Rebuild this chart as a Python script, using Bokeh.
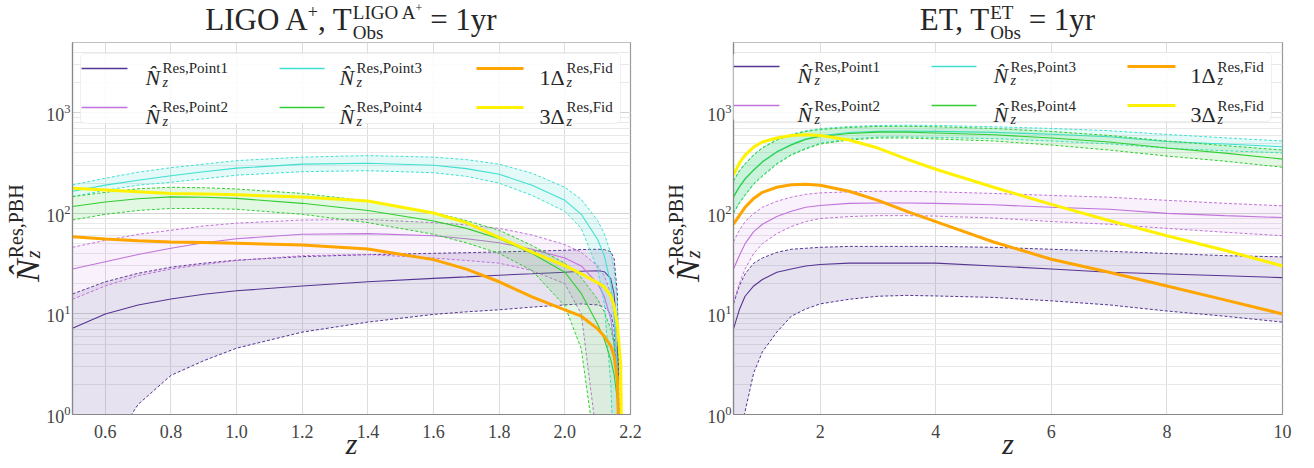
import math
from bokeh.plotting import figure
from bokeh.layouts import row, column
from bokeh.models import (Range1d, Label, Arrow, BoxAnnotation, FixedTicker,
                          PrintfTickFormatter, Div)
from bokeh.embed import file_html
from bokeh.resources import INLINE

# ---------------- data: LIGO A+ panel ----------------
Z_L = [0.5, 0.6, 0.7, 0.8, 0.9, 1.0, 1.2, 1.4, 1.6, 1.7, 1.8, 1.9, 2.0, 2.05, 2.1, 2.12, 2.14, 2.15, 2.16, 2.17, 2.18]
L_P1_MID = [7.2, 10, 12.3, 14.1, 15.7, 17, 19, 20.9, 22.6, 23.4, 24.3, 25.1, 26, 26.6, 26.9, 26.3, 22.4, 15.8, 6.3, 0.1, 0.01]
L_P1_UP = [15.8, 20.9, 25.4, 29.2, 32, 34.3, 37.2, 38.9, 40.1, 40.7, 41.4, 42.2, 43, 43.7, 44, 43.7, 41.7, 35.5, 15.8, 0.1, 0.01]
L_P1_LO = [0.1, 0.4, 1.26, 2.45, 3.43, 4.57, 6.6, 8.3, 9.9, 10.5, 11, 11.7, 12.3, 12.6, 12.3, 11.7, 10, 7.1, 1.6, 0.1, 0.01]
L_P2_MID = [28, 33, 39, 45, 51, 56, 62, 63, 60, 56, 51, 44, 36, 30, 20, 15, 8.9, 5, 1.6, 0.1, 0.01]
L_P2_UP = [46, 54, 62, 68, 75, 80, 86, 87, 81, 77, 71, 61, 49, 41, 30, 24, 16, 10, 3.2, 0.1, 0.01]
L_P2_LO = [14, 19, 24, 28, 31, 34, 38, 39, 36, 34, 32, 27, 20, 10, 0.5, 0.1, 0.01, 0.01, 0.01, 0.01, 0.01]
L_P3_MID = [166, 191, 214, 237, 260, 282, 309, 316, 301, 279, 245, 191, 135, 98, 55, 38, 20, 11, 2.5, 0.1, 0.01]
L_P3_UP = [192, 224, 257, 285, 309, 335, 363, 376, 363, 343, 309, 251, 182, 138, 85, 63, 40, 28, 12.6, 1.6, 0.01]
L_P3_LO = [147, 170, 191, 204, 221, 240, 260, 266, 254, 234, 200, 151, 105, 71, 28, 12.6, 2, 0.3, 0.1, 0.01, 0.01]
L_P4_MID = [117, 130, 140, 146, 145, 141, 126, 107, 84, 71, 56, 40, 26, 16, 7.9, 5.6, 3.5, 2.5, 1.4, 0.1, 0.01]
L_P4_UP = [147, 162, 176, 182, 180, 175, 158, 133, 102, 85, 68, 48, 32, 23, 14, 10.5, 7.1, 5, 2, 0.1, 0.01]
L_P4_LO = [86, 98, 107, 112, 112, 110, 98, 81, 62, 51, 40, 27, 12, 4.5, 0.3, 0.1, 0.01, 0.01, 0.01, 0.01, 0.01]
L_D1 = [58.5, 55.6, 53.5, 52.1, 51.3, 50.5, 48.4, 44.2, 34.7, 27.9, 20.9, 14.8, 11, 9.5, 7.1, 6, 4.8, 3.8, 2.2, 0.1, 0.01]
L_D3 = [178, 171, 164, 158, 156, 153, 146, 133, 101, 81, 57.5, 41.2, 30.2, 25.1, 20.4, 18.6, 15.1, 12, 7.9, 3.2, 0.01]
L_XTICKS = [0.6, 0.8, 1.0, 1.2, 1.4, 1.6, 1.8, 2.0, 2.2]

# ---------------- data: ET panel ----------------
Z_E = [0.5, 0.6, 0.7, 0.85, 1.0, 1.25, 1.5, 1.75, 2.0, 2.5, 3.0, 3.5, 4, 5, 6, 7, 8, 9, 10]
E_P1_MID = [7.1, 11, 15, 19, 22, 26, 28, 30, 31, 32, 32, 32, 32, 30, 28, 26, 25, 24, 23]
E_P1_UP = [12.6, 19, 25, 32, 36, 41, 44, 45, 46, 47, 47, 47, 47, 46, 44, 42, 40, 38, 37]
E_P1_LO = [0.25, 0.6, 1.07, 2.6, 4.2, 6.6, 9.5, 11.2, 12.6, 14, 15, 15.3, 15.1, 14.6, 13.5, 12.3, 10.7, 9.5, 8.3]
E_P2_MID = [28, 38, 50, 66, 78, 93, 105, 115, 120, 126, 127, 127, 126, 122, 115, 110, 100, 95, 91]
E_P2_UP = [52, 68, 83, 100, 115, 132, 145, 155, 160, 164, 166, 166, 164, 158, 151, 145, 135, 126, 119]
E_P2_LO = [13, 20, 28, 40, 50, 63, 74, 83, 89, 93, 95, 95, 94, 90, 83, 78, 71, 65, 60]
E_P3_MID = [148, 185, 222, 272, 328, 412, 486, 552, 592, 637, 655, 660, 655, 640, 612, 578, 520, 490, 460]
E_P3_UP = [212, 266, 313, 385, 452, 544, 612, 664, 697, 732, 750, 755, 750, 728, 700, 665, 610, 565, 525]
E_P3_LO = [102, 128, 154, 198, 238, 314, 386, 445, 500, 549, 575, 578, 570, 555, 525, 492, 445, 420, 400]
E_P4_MID = [145, 182, 219, 269, 324, 407, 479, 543, 582, 624, 643, 643, 631, 607, 562, 513, 447, 398, 347]
E_P4_UP = [209, 263, 309, 380, 447, 537, 603, 653, 684, 716, 733, 735, 728, 700, 653, 596, 525, 473, 427]
E_P4_LO = [100, 126, 151, 195, 234, 309, 380, 437, 490, 537, 562, 562, 550, 525, 479, 427, 372, 331, 288]
E_D1 = [78, 95, 115, 141, 162, 182, 193, 195, 191, 166, 135, 105, 83, 52, 35, 26, 19, 13.8, 10]
E_D3 = [240, 316, 380, 457, 513, 562, 596, 607, 596, 537, 447, 347, 275, 182, 123, 85, 60, 43, 30]
E_XTICKS = [2, 4, 6, 8, 10]

LEG_MAIN = ["N\u0302", "N\u0302", "N\u0302", "N\u0302", "1\u0394", "3\u0394"]
LEG_SUP = ["Res,Point1", "Res,Point2", "Res,Point3", "Res,Point4", "Res,Fid", "Res,Fid"]

# ---------------- style ----------------
C1, C2, C3, C4 = "#553592", "#C073DB", "#40E0D0", "#32CD32"
CO, CY = "#FFA500", "#FFF200"
FONT = "Liberation Serif"
TXT = "#262626"
FB = 414.0   # frame bottom in page pixels
TITLE_H = 40
FIG_H = 428


def in_label(p, fl, x, y, text, size, style="normal", align="left", angle=0.0):
    # inside the frame: screen units measured from frame bottom-left
    p.add_layout(Label(x=x - fl, y=FB - y, x_units="screen", y_units="screen", text=text,
                       text_font=FONT, text_font_size=f"{size}px", text_font_style=style,
                       text_align=align, text_baseline="alphabetic", angle=angle, text_color=TXT))


def title_div(width, frame_left, frame_w, main, sup):
    sup_html = "<sup style='font-size:18px;line-height:0;vertical-align:12px;'>+</sup>"
    main = main.replace("+", sup_html)
    sup_small = sup.replace("+", "<sup style='font-size:12px;line-height:0;vertical-align:7px;'>+</sup>")
    html = (f"<div style=\"margin-left:{frame_left}px;width:{frame_w}px;text-align:center;"
            f"font-family:'{FONT}';font-size:31px;line-height:40px;color:{TXT};white-space:nowrap;\">"
            f"{main}<span style='display:inline-block;vertical-align:-9px;font-size:19px;"
            f"line-height:20px;text-align:left;margin-left:1px;'>{sup_small}<br>Obs</span>"
            f"&nbsp;= 1yr</div>")
    return Div(text=html, width=width, height=TITLE_H, margin=0)


def ylabel_div(width, left):
    html = (f"<div style='position:relative;width:{width}px;height:{FIG_H}px;'>"
            f"<div style=\"position:absolute;left:{left}px;top:242px;transform:rotate(-90deg);"
            f"transform-origin:0 0;white-space:nowrap;font-family:'{FONT}';font-size:34px;"
            f"line-height:40px;color:{TXT};\"><i>N&#770;</i>"
            f"<span style='display:inline-block;vertical-align:-1px;font-size:20px;line-height:17px;"
            f"margin-left:1px;'>Res,PBH<br><i>z</i></span></div></div>")
    return Div(text=html, width=width, height=FIG_H, margin=0)


def make_fig(xr, xticks, bl, br, width):
    p = figure(width=width, height=FIG_H, x_range=Range1d(*xr), y_range=Range1d(1, 10 ** 3.7),
               y_axis_type="log", output_backend="svg", toolbar_location=None,
               min_border_left=bl, min_border_right=br, min_border_top=2, min_border_bottom=54)
    p.title.visible = False
    p.background_fill_color = "white"
    p.border_fill_color = "white"
    p.outline_line_color = "#999999"
    p.outline_line_width = 1.2
    p.xaxis.ticker = FixedTicker(ticks=xticks)
    for ax in (p.xaxis, p.yaxis):
        ax.axis_line_color = "#888888"
        ax.axis_line_width = 1.2
        ax.major_tick_line_color = None
        ax.minor_tick_line_color = None
        ax.major_label_text_font = FONT
        ax.major_label_text_font_size = "18px"
        ax.major_label_text_color = "#444444"
    p.xaxis.major_label_standoff = 4
    p.yaxis.major_label_standoff = -4
    p.xaxis.axis_label = "z"
    p.xaxis.axis_label_text_font = FONT
    p.xaxis.axis_label_text_font_style = "italic"
    p.xaxis.axis_label_text_font_size = "30px"
    p.xaxis.axis_label_text_color = TXT
    p.xaxis.axis_label_standoff = -14
    p.xgrid.grid_line_color = "#dddddd"
    p.ygrid.grid_line_color = "#d4d4d4"
    p.ygrid.minor_grid_line_color = "#e8e8e8"
    return p


def draw(p, z, bands, d1, d3):
    for lo, mid, up, c, fa in bands:
        p.varea(x=z, y1=lo, y2=up, fill_color=c, fill_alpha=fa)
        p.line(z, up, line_color=c, line_width=1, line_dash="3 2")
        p.line(z, lo, line_color=c, line_width=1, line_dash="3 2")
        p.line(z, mid, line_color=c, line_width=1.1)
    p.line(z, d1, line_color=CO, line_width=3)
    p.line(z, d3, line_color=CY, line_width=3)


def legend(p, fl, box, rows_y, bases, line_x, text_x):
    p.add_layout(BoxAnnotation(left=box[0] - fl, right=box[1] - fl, top=FB - box[2], bottom=FB - box[3],
                               left_units="screen", right_units="screen", top_units="screen",
                               bottom_units="screen", fill_color="white", fill_alpha=0.85,
                               line_color="#cccccc", line_width=1, border_radius=5))
    cols = [C1, C2, C3, C4, CO, CY]
    widths = [1.3, 1.3, 1.3, 1.3, 3, 3]
    for i in range(6):
        c, r = i // 2, i % 2
        y = rows_y[r]
        p.add_layout(Arrow(end=None, x_start=line_x[c][0] - fl, x_end=line_x[c][1] - fl,
                           y_start=FB - y, y_end=FB - y, start_units="screen", end_units="screen",
                           line_color=cols[i], line_width=widths[i]))
        tx = text_x[c]
        b = bases[r]
        if i < 4:
            in_label(p, fl, tx, b, LEG_MAIN[i], 22, "italic")
            off = 17
        else:
            in_label(p, fl, tx, b, LEG_MAIN[i], 22)
            off = 27
        in_label(p, fl, tx + off, b - 9, LEG_SUP[i], 15)
        in_label(p, fl, tx + off, b + 5, "z", 14, "italic")


# ---------------- left panel ----------------
FL1 = 72.0
p1 = make_fig((0.5, 2.2), L_XTICKS, 32, 33, 623)
p1.xaxis.formatter = PrintfTickFormatter(format="%.1f")
draw(p1, Z_L, [(L_P1_LO, L_P1_MID, L_P1_UP, C1, 0.14), (L_P2_LO, L_P2_MID, L_P2_UP, C2, 0.10),
               (L_P3_LO, L_P3_MID, L_P3_UP, C3, 0.15), (L_P4_LO, L_P4_MID, L_P4_UP, C4, 0.14)], L_D1, L_D3)
legend(p1, FL1, (80, 620, 53, 123), (68, 107), (76.5, 115.5),
       [(81, 127), (279, 324), (476, 523)], [145, 339, 539])

# ---------------- right panel ----------------
FL2 = 733.0
p2 = make_fig((0.5, 10), E_XTICKS, 32, 32, 613)
draw(p2, Z_E, [(E_P1_LO, E_P1_MID, E_P1_UP, C1, 0.14), (E_P2_LO, E_P2_MID, E_P2_UP, C2, 0.10),
               (E_P3_LO, E_P3_MID, E_P3_UP, C3, 0.15), (E_P4_LO, E_P4_MID, E_P4_UP, C4, 0.14)], E_D1, E_D3)
legend(p2, FL2, (732, 1271, 52, 121), (66, 105), (75, 114),
       [(733, 779), (931, 976), (1127, 1175)], [797, 993, 1190])

titles = row(title_div(663, 72, 558, "LIGO A+, T", "LIGO A+"),
             title_div(651, 70, 549, "ET, T", "ET"))
plots = row(ylabel_div(40, 8), p1, ylabel_div(38, 5), p2)
layout = column(titles, plots)
open("out.html", "w").write(file_html(layout, INLINE))
